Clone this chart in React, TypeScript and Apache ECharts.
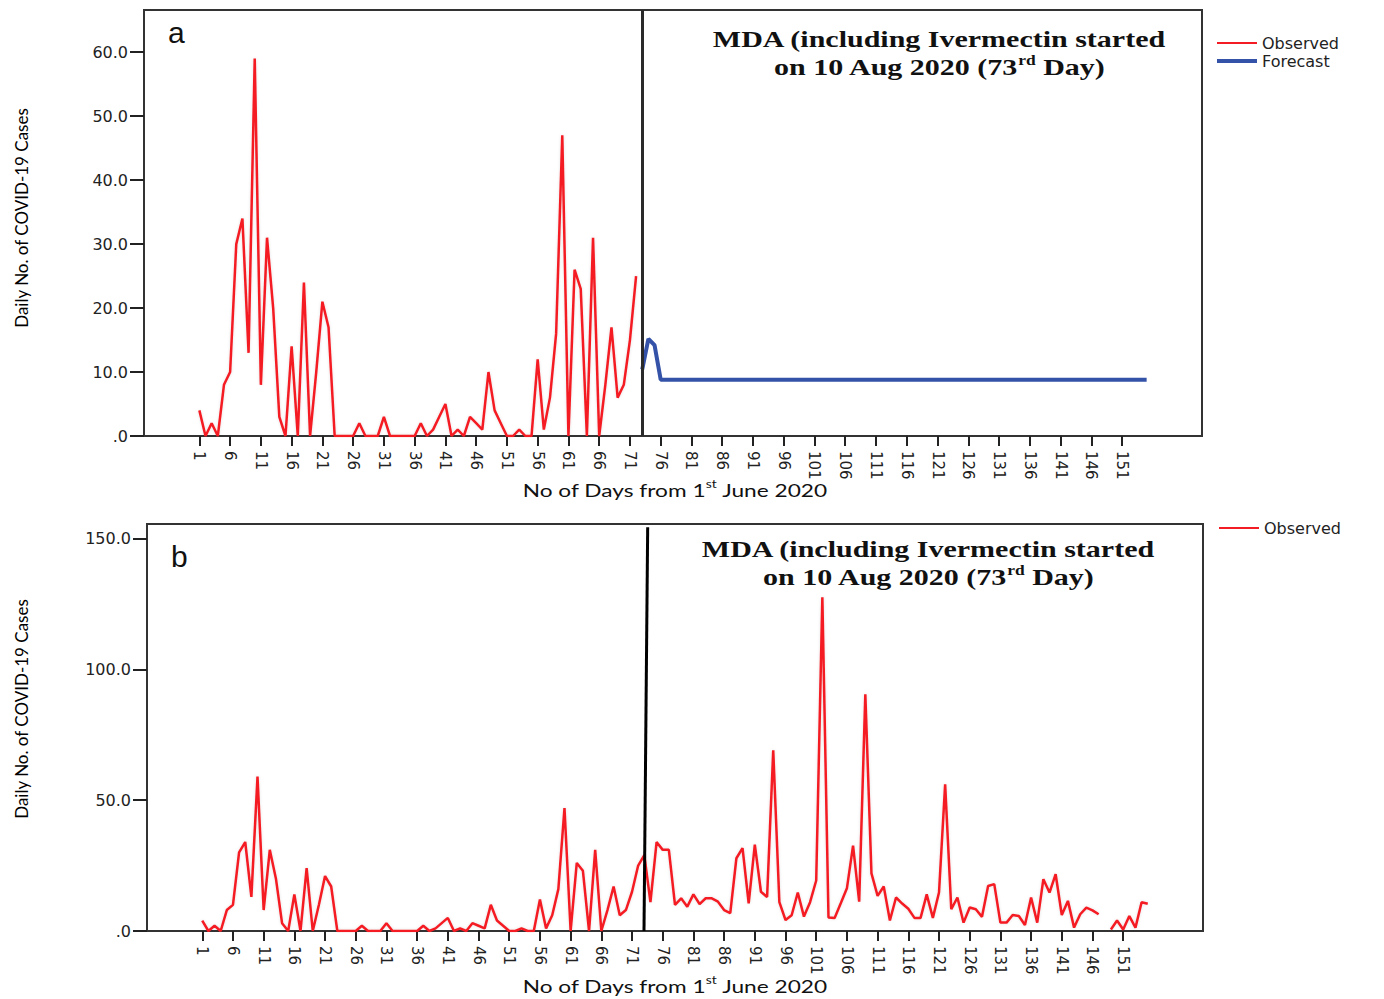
import React, { useEffect, useRef } from "react";
import * as echarts from "echarts";

// ---- data ----
const tickDays = [1, 6, 11, 16, 21, 26, 31, 36, 41, 46, 51, 56, 61, 66, 71, 76, 81, 86, 91, 96, 101, 106, 111, 116, 121, 126, 131, 136, 141, 146, 151];
const yTicksA = [0, 10, 20, 30, 40, 50, 60];
const yTicksB = [0, 50, 100, 150];

// Observed daily cases, days 1..72 (before MDA)
const observedBefore = [
  4, 0, 2, 0, 8, 10, 30, 34, 13, 59,
  8, 31, 20, 3, 0, 14, 0, 24, 0, 10,
  21, 17, 0, 0, 0, 0, 2, 0, 0, 0,
  3, 0, 0, 0, 0, 0, 2, 0, 1, 3,
  5, 0, 1, 0, 3, 2, 1, 10, 4, 2,
  0, 0, 1, 0, 0, 12, 1, 6, 16, 47,
  0, 26, 23, 0, 31, 0, 8, 17, 6, 8,
  15, 25,
];

// Observed daily cases, days 73..155 (after MDA); null = missing day
const observedAfter: (number | null)[] = [
  29, 11, 34, 31, 31, 10, 12.5, 9.3, 14, 10.3,
  12.5, 12.5, 11.2, 8, 6.8, 27.8, 31.7, 10.6, 33, 15,
  13, 69, 11, 4.2, 6, 14.7, 5.5, 11, 19.3, 127.5,
  5.2, 5, 10.6, 16.3, 32.6, 11.2, 90.4, 22, 13.4, 17,
  4, 12.8, 10.5, 8.5, 5, 5, 14, 5, 14.7, 56,
  8.3, 12.8, 3.2, 9, 8.3, 5.4, 17.2, 17.9, 3.2, 3.2,
  6.1, 5.7, 2.3, 12.8, 3.2, 19.8, 14.7, 21.7, 6.1, 11.5,
  1.3, 6.4, 8.9, 7.9, 6.4, null, 0.6, 4, 0.6, 5.7,
  1.3, 11, 10.4,
];

// Forecast (day, value) points
const forecastPoints: [number, number][] = [
  [73, 10.4], [74, 15.2], [75, 14.2], [76, 8.8], [155, 8.8],
];

const interventionDay = 73;
const firstDay = 1;

// ---- styles ----
const RED = "#f41c24";
const BLUE = "#3352a8";
const AXIS = "#333333";
const TICK_FONT = "'DejaVu Sans', Verdana, sans-serif";
const TITLE_FONT = "Lato, 'Open Sans', sans-serif";
const SERIF = "'Liberation Serif', 'Times New Roman', serif";

const toPairs = (vals: (number | null)[], start: number) =>
  vals.map((v, i) => [start + i, v === null ? "-" : v]);

const yFmt = (v: number) => (v === 0 ? ".0" : v.toFixed(1));

const xAxisBase = (gridIndex: number) => ({
  type: "value" as const,
  gridIndex,
  min: -8,
  max: 164,
  splitLine: { show: false },
  axisLine: { show: true, onZero: false, lineStyle: { color: AXIS, width: 2 } },
  axisTick: { show: true, length: 10, customValues: tickDays, lineStyle: { color: "#222", width: 2 } },
  axisLabel: {
    customValues: tickDays,
    rotate: -90,
    margin: 15,
    fontFamily: TICK_FONT,
    fontSize: 15,
    color: "#222",
  },
});

const yAxisBase = (gridIndex: number, max: number, ticks: number[]) => ({
  type: "value" as const,
  gridIndex,
  min: 0,
  max,
  splitLine: { show: false },
  axisLine: { show: true, onZero: false, lineStyle: { color: AXIS, width: 2 } },
  axisTick: { show: true, length: 14, customValues: ticks, lineStyle: { color: "#222", width: 2 } },
  axisLabel: {
    customValues: ticks,
    formatter: yFmt,
    margin: 16,
    fontFamily: TICK_FONT,
    fontSize: 16,
    color: "#222",
  },
});

const legendBase = {
  orient: "vertical",
  itemWidth: 40,
  itemHeight: 14,
  itemGap: 2,
  selectedMode: false,
  itemStyle: { color: "rgba(0,0,0,0)", borderWidth: 0, opacity: 0 },
  textStyle: { fontFamily: TICK_FONT, fontSize: 16, color: "#222" },
};

const annotationText =
  "{m|MDA (including Ivermectin started}\n{m|on 10 Aug 2020 (73}{s|rd}{m| Day)}";
const annotationRich = {
  m: { fontFamily: SERIF, fontWeight: "bold", fontSize: 24, lineHeight: 28, fill: "#111", color: "#111" },
  s: { fontFamily: SERIF, fontWeight: "bold", fontSize: 14, lineHeight: 14, verticalAlign: "top", fill: "#111", color: "#111" },
};
const xTitleText = "{n|No of Days from 1}{s|st}{n| June 2020}";
const xTitleRich = {
  n: { fontFamily: TITLE_FONT, fontSize: 18, lineHeight: 22, fill: "#111", color: "#111" },
  s: { fontFamily: TITLE_FONT, fontSize: 11, lineHeight: 12, verticalAlign: "top", fill: "#111", color: "#111" },
};
const yTitleStyle = {
  text: "Daily No. of COVID-19 Cases",
  align: "center",
  verticalAlign: "middle",
  fontFamily: TITLE_FONT,
  fontSize: 17,
  fill: "#000",
};

export default function App() {
  const ref = useRef<HTMLDivElement>(null);

  useEffect(() => {
    if (!ref.current) return;
    const chart = echarts.init(ref.current, undefined, { renderer: "svg" });

    const obsTop = toPairs(observedBefore, firstDay);
    const obsAll = toPairs([...observedBefore, ...observedAfter], firstDay);

    const option: any = {
      animation: false,
      backgroundColor: "#ffffff",
      grid: [
        { left: 144, top: 10, width: 1058, height: 426, show: true, borderColor: AXIS, borderWidth: 2, backgroundColor: "#fff" },
        { left: 147, top: 524, width: 1056, height: 407, show: true, borderColor: AXIS, borderWidth: 2, backgroundColor: "#fff" },
      ],
      xAxis: [xAxisBase(0), xAxisBase(1)],
      yAxis: [yAxisBase(0, 66.6, yTicksA), yAxisBase(1, 155.5, yTicksB)],
      legend: [
        {
          ...legendBase,
          data: [
            { name: "Observed", lineStyle: { width: 2 } },
            { name: "Forecast", lineStyle: { width: 4 } },
          ],
          left: 1210,
          top: 30,
        },
        { ...legendBase, data: [{ name: "Observed", lineStyle: { width: 2 } }], left: 1213, top: 515 },
      ],
      series: [
        {
          type: "line",
          name: "Observed",
          xAxisIndex: 0,
          yAxisIndex: 0,
          data: obsTop,
          symbol: "none",
          lineStyle: { color: RED, width: 2.5, shadowColor: "rgba(0,0,0,0.12)", shadowBlur: 3 },
          itemStyle: { color: RED },
          markLine: {
            silent: true,
            symbol: ["none", "none"],
            label: { show: false },
            lineStyle: { color: "#2a2a2a", width: 3, type: "solid" },
            data: [{ xAxis: interventionDay }],
          },
        },
        {
          type: "line",
          name: "Forecast",
          xAxisIndex: 0,
          yAxisIndex: 0,
          data: forecastPoints,
          symbol: "none",
          lineStyle: { color: BLUE, width: 4 },
          itemStyle: { color: BLUE },
        },
        {
          type: "line",
          name: "Observed",
          xAxisIndex: 1,
          yAxisIndex: 1,
          data: obsAll,
          symbol: "none",
          lineStyle: { color: RED, width: 2.5, shadowColor: "rgba(0,0,0,0.12)", shadowBlur: 3 },
          itemStyle: { color: RED },
          markLine: {
            silent: true,
            symbol: ["none", "none"],
            label: { show: false },
            lineStyle: { color: "#000", width: 3, type: "solid" },
            data: [[{ coord: [interventionDay + 0.55, 154.3] }, { coord: [interventionDay - 0.05, 0] }]],
          },
        },
      ],
      graphic: [
        { type: "text", x: 168, y: 32, style: { text: "a", fontFamily: "'Liberation Sans', Arial, sans-serif", fontSize: 30, fill: "#111", verticalAlign: "middle" } },
        { type: "text", x: 171, y: 556, style: { text: "b", fontFamily: "'Liberation Sans', Arial, sans-serif", fontSize: 30, fill: "#111", verticalAlign: "middle" } },
        { type: "text", x: 939, y: 25, scaleX: 1.25, style: { text: annotationText, align: "center", verticalAlign: "top", rich: annotationRich } },
        { type: "text", x: 928, y: 535, scaleX: 1.25, style: { text: annotationText, align: "center", verticalAlign: "top", rich: annotationRich } },
        { type: "text", x: 675, y: 490, scaleX: 1.26, style: { text: xTitleText, align: "center", verticalAlign: "middle", rich: xTitleRich } },
        { type: "text", x: 675, y: 986, scaleX: 1.26, style: { text: xTitleText, align: "center", verticalAlign: "middle", rich: xTitleRich } },
        { type: "text", x: 21, y: 218, rotation: Math.PI / 2, style: yTitleStyle },
        { type: "text", x: 21, y: 709, rotation: Math.PI / 2, style: yTitleStyle },
      ],
    };

    chart.setOption(option);
    return () => chart.dispose();
  }, []);

  return (
    <div
      ref={ref}
      style={{ position: "absolute", left: 0, top: 0, width: 1384, height: 999, background: "#fff" }}
    />
  );
}
